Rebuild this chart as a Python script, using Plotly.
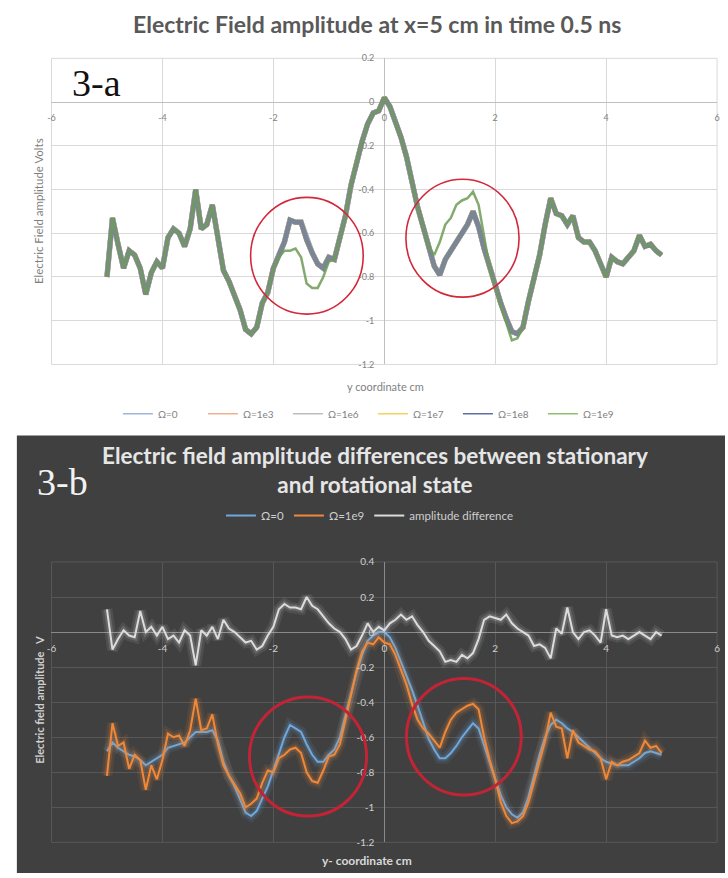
import plotly.graph_objects as go

W, H = 728, 878

# ---------------- data ----------------
y_coord = [round(-5 + 0.1 * i, 1) for i in range(101)]

# panel 3-a
omega_0_a = [
    -0.80, -0.53, -0.65, -0.76, -0.68, -0.70, -0.76, -0.88, -0.78, -0.73,
    -0.76, -0.62, -0.58, -0.60, -0.66, -0.58, -0.40, -0.58, -0.56, -0.47,
    -0.62, -0.77, -0.82, -0.89, -0.95, -1.04, -1.06, -1.03, -0.92, -0.87,
    -0.76, -0.70, -0.64, -0.54, -0.55, -0.55, -0.63, -0.69, -0.74, -0.76,
    -0.71, -0.72, -0.62, -0.52, -0.38, -0.27, -0.18, -0.10, -0.05, -0.04,
    0.02, -0.02, -0.09, -0.16, -0.25, -0.37, -0.48, -0.57, -0.66, -0.75,
    -0.79, -0.72, -0.68, -0.64, -0.60, -0.56, -0.50, -0.57, -0.67, -0.76,
    -0.85, -0.92, -0.99, -1.05, -1.06, -1.03, -0.91, -0.81, -0.70, -0.56,
    -0.44, -0.51, -0.52, -0.56, -0.52, -0.62, -0.64, -0.64, -0.68, -0.74,
    -0.80, -0.71, -0.73, -0.74, -0.71, -0.68, -0.61, -0.66, -0.65, -0.68,
    -0.70,
]
# the four intermediate rotation rates lie on top of the stationary curve
omega_1e3_a = list(omega_0_a)
omega_1e6_a = list(omega_0_a)
omega_1e7_a = list(omega_0_a)
omega_1e8_a = list(omega_0_a)
omega_1e9_a = [
    -0.80, -0.53, -0.65, -0.76, -0.68, -0.70, -0.76, -0.88, -0.78, -0.73,
    -0.76, -0.62, -0.58, -0.60, -0.66, -0.58, -0.40, -0.58, -0.56, -0.47,
    -0.62, -0.77, -0.82, -0.89, -0.95, -1.04, -1.06, -1.03, -0.92, -0.87,
    -0.76, -0.71, -0.68, -0.68, -0.67, -0.71, -0.83, -0.85, -0.85, -0.80,
    -0.73, -0.72, -0.62, -0.52, -0.38, -0.27, -0.18, -0.10, -0.05, -0.04,
    0.02, -0.02, -0.09, -0.16, -0.25, -0.37, -0.48, -0.57, -0.66, -0.70,
    -0.64, -0.56, -0.53, -0.47, -0.45, -0.44, -0.41, -0.47, -0.62, -0.76,
    -0.85, -0.93, -1.02, -1.09, -1.08, -1.03, -0.91, -0.81, -0.70, -0.56,
    -0.44, -0.51, -0.52, -0.56, -0.52, -0.62, -0.64, -0.64, -0.68, -0.74,
    -0.80, -0.71, -0.73, -0.74, -0.71, -0.68, -0.61, -0.66, -0.65, -0.68,
    -0.70,
]

# panel 3-b
omega_0_b = [
    -0.68, -0.63, -0.66, -0.68, -0.70, -0.71, -0.73, -0.76, -0.74, -0.72,
    -0.70, -0.66, -0.65, -0.64, -0.63, -0.60, -0.57, -0.57, -0.57, -0.56,
    -0.62, -0.74, -0.82, -0.88, -0.95, -1.03, -1.05, -1.02, -0.95, -0.88,
    -0.79, -0.70, -0.60, -0.53, -0.55, -0.57, -0.64, -0.70, -0.74, -0.74,
    -0.70, -0.67, -0.60, -0.48, -0.36, -0.23, -0.13, -0.05, -0.02, 0.00,
    0.00, -0.03, -0.09, -0.17, -0.24, -0.33, -0.42, -0.52, -0.61, -0.67,
    -0.72, -0.72, -0.69, -0.65, -0.60, -0.56, -0.52, -0.55, -0.65, -0.75,
    -0.84, -0.93, -1.00, -1.04, -1.06, -1.03, -0.94, -0.82, -0.70, -0.60,
    -0.53, -0.50, -0.52, -0.55, -0.57, -0.60, -0.63, -0.66, -0.69, -0.72,
    -0.74, -0.75, -0.76, -0.76, -0.76, -0.74, -0.72, -0.69, -0.68, -0.69,
    -0.70,
]
omega_1e9_b = [
    -0.82, -0.52, -0.65, -0.63, -0.78, -0.70, -0.73, -0.90, -0.76, -0.84,
    -0.73, -0.58, -0.60, -0.59, -0.65, -0.56, -0.38, -0.56, -0.55, -0.47,
    -0.64, -0.76, -0.82, -0.87, -0.92, -1.00, -0.98, -0.95, -0.86, -0.79,
    -0.80, -0.72, -0.70, -0.67, -0.66, -0.69, -0.80, -0.85, -0.86, -0.79,
    -0.71, -0.70, -0.64, -0.50, -0.36, -0.22, -0.11, -0.06, -0.07, -0.03,
    -0.06, -0.07, -0.13, -0.21, -0.30, -0.41, -0.50, -0.55, -0.58, -0.62,
    -0.66, -0.57, -0.50, -0.46, -0.44, -0.42, -0.41, -0.44, -0.60, -0.73,
    -0.84, -0.97, -1.05, -1.09, -1.08, -1.05, -0.97, -0.85, -0.73, -0.62,
    -0.46, -0.54, -0.55, -0.72, -0.56, -0.63, -0.65, -0.67, -0.68, -0.72,
    -0.84, -0.74, -0.76, -0.74, -0.73, -0.71, -0.69, -0.62, -0.66, -0.65,
    -0.69,
]
amp_difference = [
    0.13, -0.10, -0.04, 0.01, -0.02, -0.03, 0.12, 0.00, 0.03, -0.02,
    0.03, -0.04, -0.02, -0.06, 0.01, -0.02, -0.19, 0.01, -0.02, 0.03,
    -0.04, 0.07, 0.02, 0.00, -0.03, -0.06, -0.05, -0.10, -0.08, -0.02,
    0.03, 0.13, 0.16, 0.14, 0.14, 0.13, 0.20, 0.15, 0.13, 0.09,
    0.05, 0.02, 0.00, -0.04, -0.10, -0.08, -0.02, 0.05, 0.00, 0.03,
    0.01, 0.05, 0.07, 0.10, 0.07, 0.09, 0.04, 0.00, -0.05, -0.08,
    -0.11, -0.17, -0.16, -0.17, -0.13, -0.15, -0.12, -0.04, 0.07, 0.09,
    0.08, 0.07, 0.10, 0.05, 0.02, 0.00, -0.02, -0.08, -0.07, -0.09,
    -0.15, 0.02, -0.01, 0.14, 0.00, -0.04, 0.00, 0.01, -0.02, -0.06,
    0.13, -0.02, -0.03, -0.02, -0.04, -0.02, 0.00, -0.02, -0.04, 0.00,
    -0.02,
]

x_ticks = [-6, -4, -2, 0, 2, 4, 6]
x_ticktext = ["-6", "-4", "-2", "0", "2", "4", "6"]
ya_ticks = [-1.2, -1.0, -0.8, -0.6, -0.4, -0.2, 0.0, 0.2]
ya_ticktext = ["-1.2", "-1", "-0.8", "-0.6", "-0.4", "-0.2", "0", "0.2"]
yb_ticks = [-1.2, -1.0, -0.8, -0.6, -0.4, -0.2, 0.0, 0.2, 0.4]
yb_ticktext = ["-1.2", "-1", "-0.8", "-0.6", "-0.4", "-0.2", "0", "0.2", "0.4"]

# highlighted regions (x0, y0, x1, y1) in data units
circles_a = [(-2.41, -0.97, -0.38, -0.436), (0.39, -0.892, 2.43, -0.353)]
circles_b = [(-2.43, -1.05, -0.32, -0.37), (0.40, -0.93, 2.47, -0.265)]

# ---------------- layout geometry ----------------
x_range = [-6, 6]
ya_range = [-1.2, 0.2]
yb_range = [-1.2, 0.4]
x_dom = [47 / W, 720 / W]
ya_dom = [1 - 363 / H, 1 - 53 / H]
yb_dom = [1 - 847 / H, 1 - 563 / H]


def frac(v, r, d):
    return d[0] + (v - r[0]) / (r[1] - r[0]) * (d[1] - d[0])


FONT = "Lato, 'Open Sans', sans-serif"
fig = go.Figure()

# ---------------- panel 3-a traces ----------------
series_a = [
    ("Ω=0", omega_0_a, "#8ea9d0", 5.5, 1.0, "#9fb6d8"),
    ("Ω=1e3", omega_1e3_a, "#eba27a", 5.0, 1.0, "#efb08c"),
    ("Ω=1e6", omega_1e6_a, "#b3b3b3", 5.0, 1.0, "#bdbdbd"),
    ("Ω=1e7", omega_1e7_a, "#efcd55", 5.0, 1.0, "#f3d35a"),
    ("Ω=1e8", omega_1e8_a, "#7b8797", 5.0, 1.0, "#5f6fa6"),
    ("Ω=1e9", omega_1e9_a, "#6f9c58", 2.5, 0.85, "#8cc06e"),
]
for name, vals, col, wd, op, lcol in series_a:
    fig.add_trace(go.Scatter(
        x=y_coord, y=vals, mode="lines", name=name, showlegend=False,
        line=dict(color=col, width=wd), opacity=op,
        xaxis="x", yaxis="y",
    ))
for name, vals, col, wd, op, lcol in series_a:
    fig.add_trace(go.Scatter(
        x=[None], y=[None], mode="lines", name=name,
        line=dict(color=lcol, width=1.5),
        xaxis="x", yaxis="y", legend="legend",
    ))

# ---------------- panel 3-b traces ----------------
series_b = [
    ("Ω=0", omega_0_b, "#6fa8dc", (111, 168, 220)),
    ("Ω=1e9", omega_1e9_b, "#f0883a", (240, 136, 58)),
    ("amplitude difference", amp_difference, "#dcdcdc", (220, 220, 220)),
]
for name, vals, col, rgb in series_b:
    for gw, ga in ((11, 0.10), (6, 0.18)):
        fig.add_trace(go.Scatter(
            x=y_coord, y=vals, mode="lines", showlegend=False, hoverinfo="skip",
            line=dict(color="rgba(%d,%d,%d,%.2f)" % (rgb + (ga,)), width=gw),
            xaxis="x2", yaxis="y2",
        ))
    fig.add_trace(go.Scatter(
        x=y_coord, y=vals, mode="lines", name=name,
        line=dict(color=col, width=2),
        xaxis="x2", yaxis="y2", legend="legend2",
    ))

# ---------------- shapes ----------------
shapes = [
    dict(type="rect", xref="paper", yref="paper", x0=12 / W, x1=1, y0=0, y1=1 - 435 / H,
         fillcolor="#404040", line=dict(width=0), layer="below"),
    dict(type="rect", xref="x domain", yref="y domain", x0=0, x1=1, y0=0, y1=1,
         line=dict(color="#d9d9d9", width=1), layer="below"),
    dict(type="rect", xref="x2 domain", yref="y2 domain", x0=0, x1=1, y0=0, y1=1,
         line=dict(color="#575757", width=1), layer="below"),
]
for (x0, y0, x1, y1) in circles_a:
    shapes.append(dict(type="circle", xref="x", yref="y", x0=x0, y0=y0, x1=x1, y1=y1,
                       line=dict(color="#d3283a", width=1.6), layer="above"))
for (x0, y0, x1, y1) in circles_b:
    shapes.append(dict(type="circle", xref="x2", yref="y2", x0=x0, y0=y0, x1=x1, y1=y1,
                       line=dict(color="#c22436", width=3), layer="above"))

# ---------------- annotations ----------------
ann = [
    dict(text="<b>Electric Field amplitude at x=5 cm in time 0.5 ns</b>", x=376 / W, y=1 - 18 / H,
         font=dict(family=FONT, size=23, color="#595959")),
    dict(text="3-a", x=93 / W, y=1 - 78 / H,
         font=dict(family="Liberation Serif, serif", size=38, color="#111111")),
    dict(text="Electric Field amplitude Volts", x=34 / W, y=1 - 208 / H, textangle=-90,
         font=dict(family=FONT, size=11.5, color="#7f7f7f")),
    dict(text="y coordinate cm", x=385 / W, y=1 - 385 / H,
         font=dict(family=FONT, size=11, color="#7f7f7f")),
    dict(text="<b>Electric field amplitude differences between stationary<br>and rotational state</b>",
         x=374 / W, y=1 - 470 / H,
         font=dict(family=FONT, size=22.5, color="#e6e6e6")),
    dict(text="3-b", x=58 / W, y=1 - 482 / H,
         font=dict(family="Liberation Serif, serif", size=38, color="#f2f2f2")),
    dict(text="<b>Electric field amplitude   V</b>", x=35 / W, y=1 - 703 / H, textangle=-90,
         font=dict(family=FONT, size=11, color="#d0d0d0")),
    dict(text="<b>y- coordinate cm</b>", x=366 / W, y=1 - 865 / H,
         font=dict(family=FONT, size=12, color="#d9d9d9")),
]
for a in ann:
    a.update(xref="paper", yref="paper", showarrow=False, xanchor="center", yanchor="middle")

fig.update_layout(
    width=W, height=H, margin=dict(l=0, r=0, t=0, b=0),
    paper_bgcolor="white", plot_bgcolor="rgba(0,0,0,0)",
    font=dict(family=FONT),
    shapes=shapes, annotations=ann,
    xaxis=dict(domain=x_dom, range=x_range, anchor="free",
               position=frac(0, ya_range, ya_dom),
               tickmode="array", tickvals=x_ticks, ticktext=x_ticktext,
               showgrid=True, gridcolor="#d9d9d9", gridwidth=1,
               zeroline=True, zerolinecolor="#bfbfbf", zerolinewidth=1,
               showline=False, ticks="", ticklabelstandoff=9,
               tickfont=dict(size=9, color="#7f7f7f")),
    yaxis=dict(domain=ya_dom, range=ya_range, anchor="free",
               position=frac(0, x_range, x_dom),
               tickmode="array", tickvals=ya_ticks, ticktext=ya_ticktext,
               showgrid=True, gridcolor="#d9d9d9", gridwidth=1,
               zeroline=True, zerolinecolor="#bfbfbf", zerolinewidth=1,
               showline=False, ticks="", ticklabelstandoff=10,
               tickfont=dict(size=9, color="#7f7f7f")),
    xaxis2=dict(domain=x_dom, range=x_range, anchor="free",
                position=frac(0, yb_range, yb_dom),
                tickmode="array", tickvals=x_ticks, ticktext=x_ticktext,
                showgrid=True, gridcolor="#575757", gridwidth=1,
                zeroline=True, zerolinecolor="#8a8a8a", zerolinewidth=1,
                showline=False, ticks="", ticklabelstandoff=9,
                tickfont=dict(size=10, color="#cfcfcf")),
    yaxis2=dict(domain=yb_dom, range=yb_range, anchor="free",
                position=frac(0, x_range, x_dom),
                tickmode="array", tickvals=yb_ticks, ticktext=yb_ticktext,
                showgrid=True, gridcolor="#575757", gridwidth=1,
                zeroline=True, zerolinecolor="#8a8a8a", zerolinewidth=1,
                showline=False, ticks="", ticklabelstandoff=10,
                tickfont=dict(size=10, color="#cfcfcf")),
    legend=dict(orientation="h", x=372 / W, y=1 - 413 / H, xanchor="center", yanchor="middle",
                bgcolor="rgba(0,0,0,0)", font=dict(size=10, color="#7f7f7f", family=FONT),
                itemwidth=30, entrywidth=40, entrywidthmode="pixels"),
    legend2=dict(orientation="h", x=369 / W, y=1 - 516 / H, xanchor="center", yanchor="middle",
                 bgcolor="rgba(0,0,0,0)", font=dict(size=11.5, color="#cfcfcf", family=FONT),
                 itemwidth=30),
    showlegend=True,
)

fig.write_html("out.html")
